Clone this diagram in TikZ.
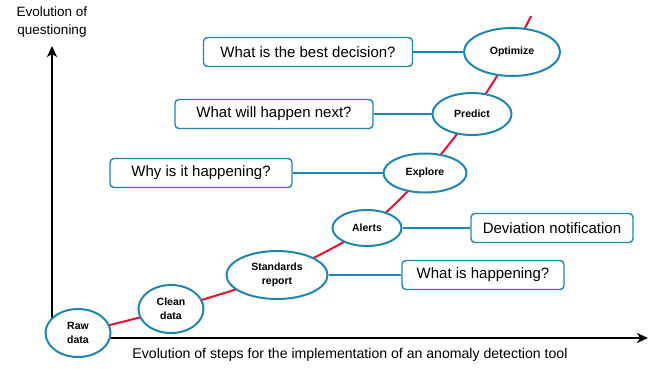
\documentclass[tikz,border=0pt]{standalone}
\usepackage{fontspec}
\setmainfont{Liberation Sans}
\usetikzlibrary{shapes.geometric,arrows.meta}
\definecolor{stepblue}{RGB}{31,134,176}
\definecolor{linered}{RGB}{232,18,48}
\begin{document}
\begin{tikzpicture}[x=1pt,y=-1pt,
  stage/.style={ellipse,draw=stepblue,line width=2pt,fill=white,inner sep=0pt,
    align=center,font=\fontsize{10.5}{14}\selectfont\bfseries},
  qbox/.style={draw=stepblue,line width=1.4pt,rounded corners=4pt,fill=white,
    inner sep=0pt,minimum height=29pt,font=\fontsize{15}{18}\selectfont},
  link/.style={draw=stepblue,line width=1.2pt},
  axis/.style={line width=2.6pt,-{Stealth[length=11pt,width=10pt,inset=3pt]}},
  lbl/.style={inner sep=0pt,align=center}]
\useasboundingbox (0,0) rectangle (654,368);
% axes
\coordinate (origin) at (52,338);
\coordinate (ytip) at (52,46);
\coordinate (xtip) at (648,338);
\draw[axis] (origin) -- (ytip);
\draw[axis] (origin) -- (xtip);
\node[lbl,font=\fontsize{13.5}{18}\selectfont] (ylabel) at (52,22) {Evolution of\\questioning};
\node[lbl,font=\fontsize{14.1}{18}\selectfont] (xlabel) at (350,355) {Evolution of steps for the implementation of an anomaly detection tool};
% red path
\coordinate (top) at (531,16);
\draw[linered,line width=2pt] plot[smooth,tension=0.45] coordinates
  {(78,333) (171,309) (277,275) (367,228) (425,173) (472,114) (512,52) (531,16)};
% stages
\node[stage,minimum width=65pt,minimum height=48pt] (raw) at (78,333) {Raw\\data};
\node[stage,minimum width=65pt,minimum height=48pt] (clean) at (171,309) {Clean\\data};
\node[stage,minimum width=101pt,minimum height=48pt] (std) at (277,275) {Standards\\report};
\node[stage,minimum width=69pt,minimum height=36pt] (alerts) at (367,228) {Alerts};
\node[stage,minimum width=83pt,minimum height=39pt] (explore) at (425,173) {Explore};
\node[stage,minimum width=79pt,minimum height=42pt] (predict) at (472,114) {Predict};
\node[stage,minimum width=96pt,minimum height=48pt] (optimize) at (512,52) {Optimize};
% question boxes
\node[qbox,minimum width=209pt] (q5) at (308,52) {What is the best decision?};
\node[qbox,minimum width=198pt] (q4) at (274,114) {What will happen next?};
\node[qbox,minimum width=182pt] (q3) at (201,173) {Why is it happening?};
\node[qbox,minimum width=162pt] (q2) at (552,228) {Deviation notification};
\node[qbox,minimum width=162pt] (q1) at (483,275) {What is happening?};
% links
\draw[link] (q5.east) -- (optimize.west);
\draw[link] (q4.east) -- (predict.west);
\draw[link] (q3.east) -- (explore.west);
\draw[link] (alerts.east) -- (q2.west);
\draw[link] (std.east) -- (q1.west);
\end{tikzpicture}
\end{document}
